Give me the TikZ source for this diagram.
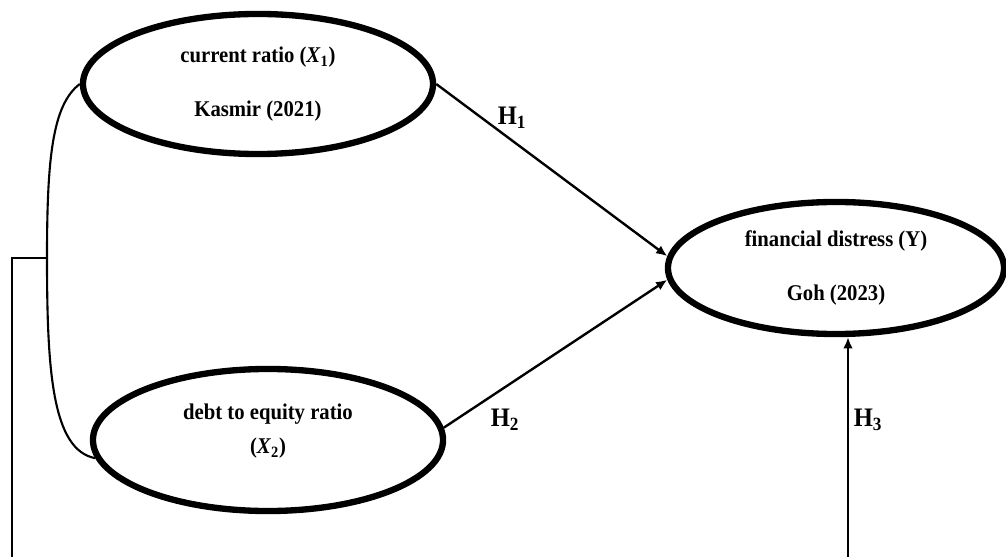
\documentclass[tikz,border=0pt]{standalone}
\usepackage{fontspec}
\setmainfont{Liberation Serif}[FakeStretch=0.92]
\usepackage{xcolor}
\usepackage{tikz}
\usetikzlibrary{shapes.geometric, arrows.meta, positioning}

\begin{document}
\begin{tikzpicture}[
  x=0.025cm, y=-0.025cm,
  latent/.style={ellipse, draw=black, line width=4.5pt, inner sep=0pt, minimum width=8.75cm, minimum height=3.5cm, align=center, font=\fontsize{16}{18}\selectfont\bfseries},
  hyp/.style={font=\fontsize{19}{21}\selectfont\bfseries},
  arrow/.style={line width=1.7pt, -{Latex[length=2.8mm, width=2.4mm]}},
  link/.style={line width=1.5pt}
]
\useasboundingbox (0,0) rectangle (1006,557);

% Variables
\node (cr) [latent] at (258,84) {current ratio (\textit{X}\textsubscript{1})\\[20pt]Kasmir (2021)};
\node (der) [latent, minimum height=3.55cm, text depth=0.55cm] at (268,440) {debt to equity ratio\\[6pt](\textit{X}\textsubscript{2})};
\node (fd) [latent, minimum width=8.4cm, minimum height=3.3cm] at (836,268) {financial distress (Y)\\[20pt]Goh (2023)};

% Hypotheses
\draw [arrow] (cr.east) -- (fd.176);
\draw [arrow] (der.4) -- (fd.184);
\node (h1) [hyp] at (512,118) {H\textsubscript{1}};
\node (h2) [hyp] at (505,420) {H\textsubscript{2}};
\node (h3) [hyp] at (868,420) {H\textsubscript{3}};

% Joint path
\coordinate (tick) at (47,258);
\coordinate (corner) at (12,258);
\coordinate (leftend) at (12,557);
\coordinate (rightend) at (848,557);
\draw [link] (cr.west) .. controls (52,105) and (47,160) .. (tick)
  .. controls (47,370) and (52,450) .. (der.186);
\draw [link] (tick) -- (corner) -- (leftend);
\draw [arrow] (rightend) -- (rightend |- fd.south);
\end{tikzpicture}
\end{document}
